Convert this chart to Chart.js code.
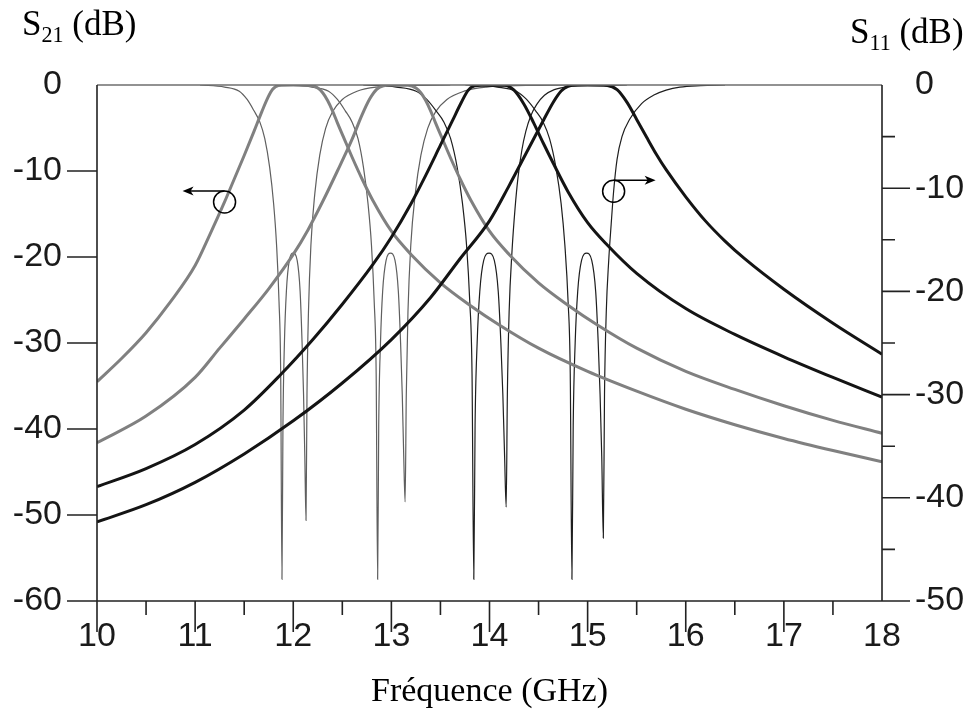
<!DOCTYPE html>
<html>
<head>
<meta charset="utf-8">
<script src="https://cdn.jsdelivr.net/npm/chart.js@4.4.1/dist/chart.umd.min.js"></script>
<style>
  html, body { margin: 0; padding: 0; background: #fff; }
  #wrap { position: relative; width: 970px; height: 722px; }
  .axlab { position: absolute; font-family: "Liberation Serif", "Times New Roman", serif; font-size: 35px; line-height: 1; color: #000; white-space: nowrap; }
  .axlab sub { font-size: 0.63em; vertical-align: -0.3em; line-height: 0; }
</style>
</head>
<body>
<div id="wrap">
  <canvas id="myChart" width="970" height="722"></canvas>
  <div class="axlab" style="left:22px;top:6px">S<sub>21</sub> (dB)</div>
  <div class="axlab" style="left:850px;top:14px">S<sub>11</sub> (dB)</div>
</div>
<script>
// S21 (left axis)
const s21a_f  = [10.0, 10.25, 10.5, 10.75, 11.0, 11.15, 11.3, 11.4, 11.5, 11.6, 11.68, 11.74, 11.79, 11.85, 12.0, 12.17, 12.25, 12.3, 12.35, 12.4, 12.45, 12.51, 12.6, 12.7, 12.81, 13.0, 13.2, 13.5, 13.8, 14.1, 14.5, 15.0, 15.5, 16.0, 16.5, 17.0, 17.5, 18.0];
const s21a_db = [-34.5, -31.8, -28.8, -25.2, -21.0, -17.4, -13.6, -10.9, -8.2, -5.4, -3.1, -1.5, -0.5, -0.05, 0, -0.02, -0.35, -0.9, -1.8, -3.0, -4.4, -6.0, -8.4, -10.9, -13.4, -17.0, -19.7, -23.0, -25.6, -27.9, -30.6, -33.3, -35.6, -37.7, -39.5, -41.1, -42.5, -43.8];

const s21b_f  = [10.0, 10.5, 11.0, 11.25, 11.5, 11.75, 12.0, 12.15, 12.3, 12.45, 12.6, 12.7, 12.78, 12.85, 12.92, 13.0, 13.17, 13.25, 13.3, 13.35, 13.4, 13.45, 13.51, 13.6, 13.7, 13.81, 14.0, 14.2, 14.5, 14.8, 15.1, 15.5, 16.0, 16.5, 17.0, 17.5, 18.0];
const s21b_db = [-41.6, -38.5, -34.0, -30.6, -27.2, -23.7, -19.7, -16.85, -13.55, -10.0, -6.3, -3.5, -1.6, -0.5, -0.08, 0, -0.02, -0.35, -0.9, -1.8, -3.0, -4.4, -6.0, -8.4, -10.9, -13.4, -17.0, -19.7, -23.0, -25.6, -27.9, -30.6, -33.3, -35.4, -37.3, -39.0, -40.5];

const s21c_f  = [10.0, 10.5, 11.0, 11.5, 11.87, 12.2, 12.5, 12.81, 13.0, 13.2, 13.35, 13.5, 13.62, 13.71, 13.78, 13.85, 14.0, 14.15, 14.25, 14.35, 14.45, 14.55, 14.65, 14.8, 15.0, 15.2, 15.5, 16.0, 16.5, 17.0, 17.5, 18.0];
const s21c_db = [-46.7, -44.6, -41.8, -37.8, -33.7, -29.6, -25.5, -20.9, -17.7, -13.8, -10.5, -7.0, -4.2, -2.1, -0.65, -0.1, 0, -0.02, -0.6, -2.2, -4.4, -6.8, -9.1, -12.4, -16.0, -18.6, -21.9, -26.0, -29.0, -31.6, -34.0, -36.3];

const s21d_f  = [10.0, 10.5, 11.0, 11.5, 12.0, 12.5, 13.0, 13.4, 13.7, 14.0, 14.2, 14.4, 14.55, 14.65, 14.73, 14.8, 14.9, 15.0, 15.2, 15.3, 15.4, 15.5, 15.6, 15.7, 15.8, 16.0, 16.2, 16.4, 16.6, 17.0, 17.5, 18.0];
const s21d_db = [-50.8, -48.8, -46.2, -42.9, -39.05, -34.65, -29.6, -24.7, -20.2, -15.8, -11.7, -7.35, -4.1, -2.0, -0.7, -0.15, 0, 0, -0.05, -0.55, -2.0, -4.0, -6.05, -8.05, -9.85, -13.0, -15.8, -18.15, -20.2, -23.75, -27.7, -31.3];

// S11 (right axis)
const s11a_f  = [11.05, 11.3, 11.45, 11.53, 11.6, 11.66, 11.71, 11.76, 11.8, 11.83, 11.855, 11.872, 11.885, 11.895, 11.91, 11.93, 11.96, 12.0, 12.04, 12.07, 12.09, 12.105, 12.118, 12.13, 12.14, 12.155, 12.18, 12.22, 12.27, 12.33, 12.4, 12.5, 12.65, 12.85, 13.2, 13.6];
const s11a_db = [0, -0.2, -0.6, -1.4, -2.5, -3.6, -5.2, -8.0, -11.5, -15.5, -21, -28, -47.9, -33, -25, -20, -17, -16.3, -17, -20, -25, -30, -36, -42.2, -30, -22, -15.5, -10.5, -6.8, -4.2, -2.6, -1.4, -0.6, -0.2, -0.05, 0];

const s11b_f  = [11.9, 12.19, 12.36, 12.45, 12.53, 12.6, 12.66, 12.716, 12.762, 12.797, 12.825, 12.845, 12.86, 12.871, 12.889, 12.911, 12.946, 12.991, 13.037, 13.071, 13.094, 13.111, 13.126, 13.14, 13.152, 13.169, 13.198, 13.244, 13.301, 13.37, 13.45, 13.566, 13.74, 13.97, 14.37, 14.83];
const s11b_db = [0, -0.2, -0.6, -1.4, -2.5, -3.6, -5.2, -8.0, -11.5, -15.5, -21, -28, -47.9, -33, -25, -20, -17, -16.3, -17, -20, -25, -30, -36, -40.4, -30, -22, -15.5, -10.5, -6.8, -4.2, -2.6, -1.4, -0.6, -0.2, -0.05, 0];

const s11c_f  = [12.713, 13.05, 13.253, 13.361, 13.455, 13.536, 13.604, 13.671, 13.725, 13.766, 13.799, 13.822, 13.84, 13.853, 13.874, 13.901, 13.941, 13.995, 14.049, 14.089, 14.116, 14.136, 14.154, 14.17, 14.182, 14.2, 14.23, 14.26, 14.29, 14.33, 14.37, 14.42, 14.48, 14.56, 14.66, 14.8, 15.05, 15.4];
const s11c_db = [0, -0.2, -0.6, -1.4, -2.5, -3.6, -5.2, -8.0, -11.5, -15.5, -21, -28, -47.9, -33, -25, -20, -17, -16.3, -17, -20, -25, -30, -36, -40.9, -30, -22, -16, -12, -9.0, -6.3, -4.5, -3.0, -1.9, -1.0, -0.45, -0.15, -0.03, 0];

const s11d_f  = [13.754, 14.08, 14.274, 14.378, 14.47, 14.547, 14.612, 14.677, 14.73, 14.768, 14.801, 14.823, 14.84, 14.853, 14.873, 14.899, 14.938, 14.99, 15.042, 15.082, 15.108, 15.127, 15.144, 15.16, 15.172, 15.19, 15.215, 15.24, 15.265, 15.3, 15.35, 15.43, 15.55, 15.67, 15.8, 15.94, 16.15, 16.4];
const s11d_db = [0, -0.2, -0.6, -1.4, -2.5, -3.6, -5.2, -8.0, -11.5, -15.5, -21, -28, -47.9, -33, -25, -20, -17, -16.3, -17, -20, -25, -30, -36, -43.9, -30, -22, -17, -13.5, -10.3, -7.2, -5.0, -3.3, -1.8, -1.0, -0.5, -0.2, -0.06, 0];

// arrow markers: [freq, value, axis, direction]
const markers = [
  [11.3, -13.6, "y", -1],
  [15.265, -10.3, "y2", 1],
];

const grey = "#808080";
const black = "#141414";

function pts(f, v) {
  return f.map((x, i) => ({ x: x, y: v[i] }));
}

function line(f, v, axis, color, width) {
  return {
    data: pts(f, v),
    yAxisID: axis,
    borderColor: color,
    borderWidth: width,
    pointRadius: 0,
    fill: false,
    cubicInterpolationMode: "monotone",
  };
}

const tickFont = { family: "'Liberation Sans', Arial, sans-serif", size: 34 };

// axis frame, outside tick marks and the two arrow markers
const framePlugin = {
  id: "frame",
  afterDraw(chart) {
    const ctx = chart.ctx;
    const a = chart.chartArea;
    const sx = chart.scales.x, sy = chart.scales.y, sy2 = chart.scales.y2;
    ctx.save();
    ctx.lineCap = "butt";

    ctx.strokeStyle = "#6e6e6e";
    ctx.lineWidth = 1.5;
    ctx.beginPath();
    ctx.moveTo(a.left, a.top);
    ctx.lineTo(a.right, a.top);
    ctx.stroke();

    ctx.strokeStyle = "#222";
    ctx.lineWidth = 1.6;
    ctx.beginPath();
    ctx.moveTo(a.left, a.top); ctx.lineTo(a.left, a.bottom);
    ctx.moveTo(a.right, a.top); ctx.lineTo(a.right, a.bottom);
    ctx.moveTo(a.left, a.bottom); ctx.lineTo(a.right, a.bottom);
    sx.ticks.forEach((t) => {
      if (t.value >= sx.max) return;
      const px = sx.getPixelForValue(t.value);
      const len = Number.isInteger(t.value) ? 31 : 14;
      ctx.moveTo(px, a.bottom); ctx.lineTo(px, a.bottom + len);
    });
    sy.ticks.forEach((t) => {
      if (t.value >= sy.max) return;
      const py = sy.getPixelForValue(t.value);
      const len = t.value % 10 === 0 ? 30 : 16;
      ctx.moveTo(a.left, py); ctx.lineTo(a.left - len, py);
    });
    sy2.ticks.forEach((t) => {
      if (t.value >= sy2.max) return;
      const py = sy2.getPixelForValue(t.value);
      const len = t.value % 10 === 0 ? 28 : 13;
      ctx.moveTo(a.right, py); ctx.lineTo(a.right + len, py);
    });
    ctx.stroke();

    // circle + arrow markers
    ctx.strokeStyle = "#000";
    ctx.fillStyle = "#000";
    ctx.lineWidth = 1.5;
    markers.forEach(([f, v, axis, dir]) => {
      const cx = sx.getPixelForValue(f);
      const cy = chart.scales[axis].getPixelForValue(v);
      const r = 11;
      ctx.beginPath();
      ctx.arc(cx, cy, r, 0, Math.PI * 2);
      ctx.stroke();
      const y0 = cy - r;
      const x1 = cx + dir * 42;
      ctx.beginPath();
      ctx.moveTo(cx, y0);
      ctx.lineTo(x1 - dir * 6, y0);
      ctx.stroke();
      ctx.beginPath();
      ctx.moveTo(x1, y0);
      ctx.lineTo(x1 - dir * 11, y0 - 4.5);
      ctx.lineTo(x1 - dir * 8, y0);
      ctx.lineTo(x1 - dir * 11, y0 + 4.5);
      ctx.closePath();
      ctx.fill();
    });
    ctx.restore();
  },
};

const ctx = document.getElementById("myChart");

new Chart(ctx, {
  type: "line",
  data: {
    datasets: [
      line(s21d_f, s21d_db, "y", black, 3),
      line(s21c_f, s21c_db, "y", black, 3),
      line(s21b_f, s21b_db, "y", grey, 3),
      line(s21a_f, s21a_db, "y", grey, 3),
      line(s11d_f, s11d_db, "y2", "#1e1e1e", 1.2),
      line(s11c_f, s11c_db, "y2", "#1e1e1e", 1.2),
      line(s11b_f, s11b_db, "y2", "#5f5f5f", 1.2),
      line(s11a_f, s11a_db, "y2", "#5f5f5f", 1.2),
    ],
  },
  options: {
    responsive: false,
    animation: false,
    layout: { padding: { top: 85, left: 0, right: 0, bottom: 0 } },
    plugins: { legend: { display: false }, tooltip: { enabled: false } },
    scales: {
      x: {
        type: "linear",
        min: 10,
        max: 18,
        grid: { display: false, drawTicks: false },
        border: { display: false },
        ticks: {
          stepSize: 0.5,
          autoSkip: false,
          maxRotation: 0,
          padding: 15,
          color: "#1a1a1a",
          font: tickFont,
          callback: (v) => (Number.isInteger(v) ? v : ""),
        },
        title: {
          display: true,
          text: "Fréquence (GHz)",
          color: "#000",
          font: { family: "'Liberation Serif', 'Times New Roman', serif", size: 34 },
          padding: { top: 0, bottom: 10 },
        },
        afterFit: (s) => { s.height = 121; },
      },
      y: {
        position: "left",
        min: -60,
        max: 0,
        grid: { display: false, drawTicks: false },
        border: { display: false },
        ticks: {
          stepSize: 5,
          padding: 35,
          color: "#1a1a1a",
          font: tickFont,
          callback: (v) => (v % 10 === 0 ? v : ""),
        },
        afterFit: (s) => { s.width = 97; },
      },
      y2: {
        position: "right",
        min: -50,
        max: 0,
        grid: { display: false, drawTicks: false },
        border: { display: false },
        ticks: {
          stepSize: 5,
          padding: 33,
          color: "#1a1a1a",
          font: tickFont,
          callback: (v) => (v % 10 === 0 ? v : ""),
        },
        afterFit: (s) => { s.width = 88; },
      },
    },
  },
  plugins: [framePlugin],
});
</script>
</body>
</html>
